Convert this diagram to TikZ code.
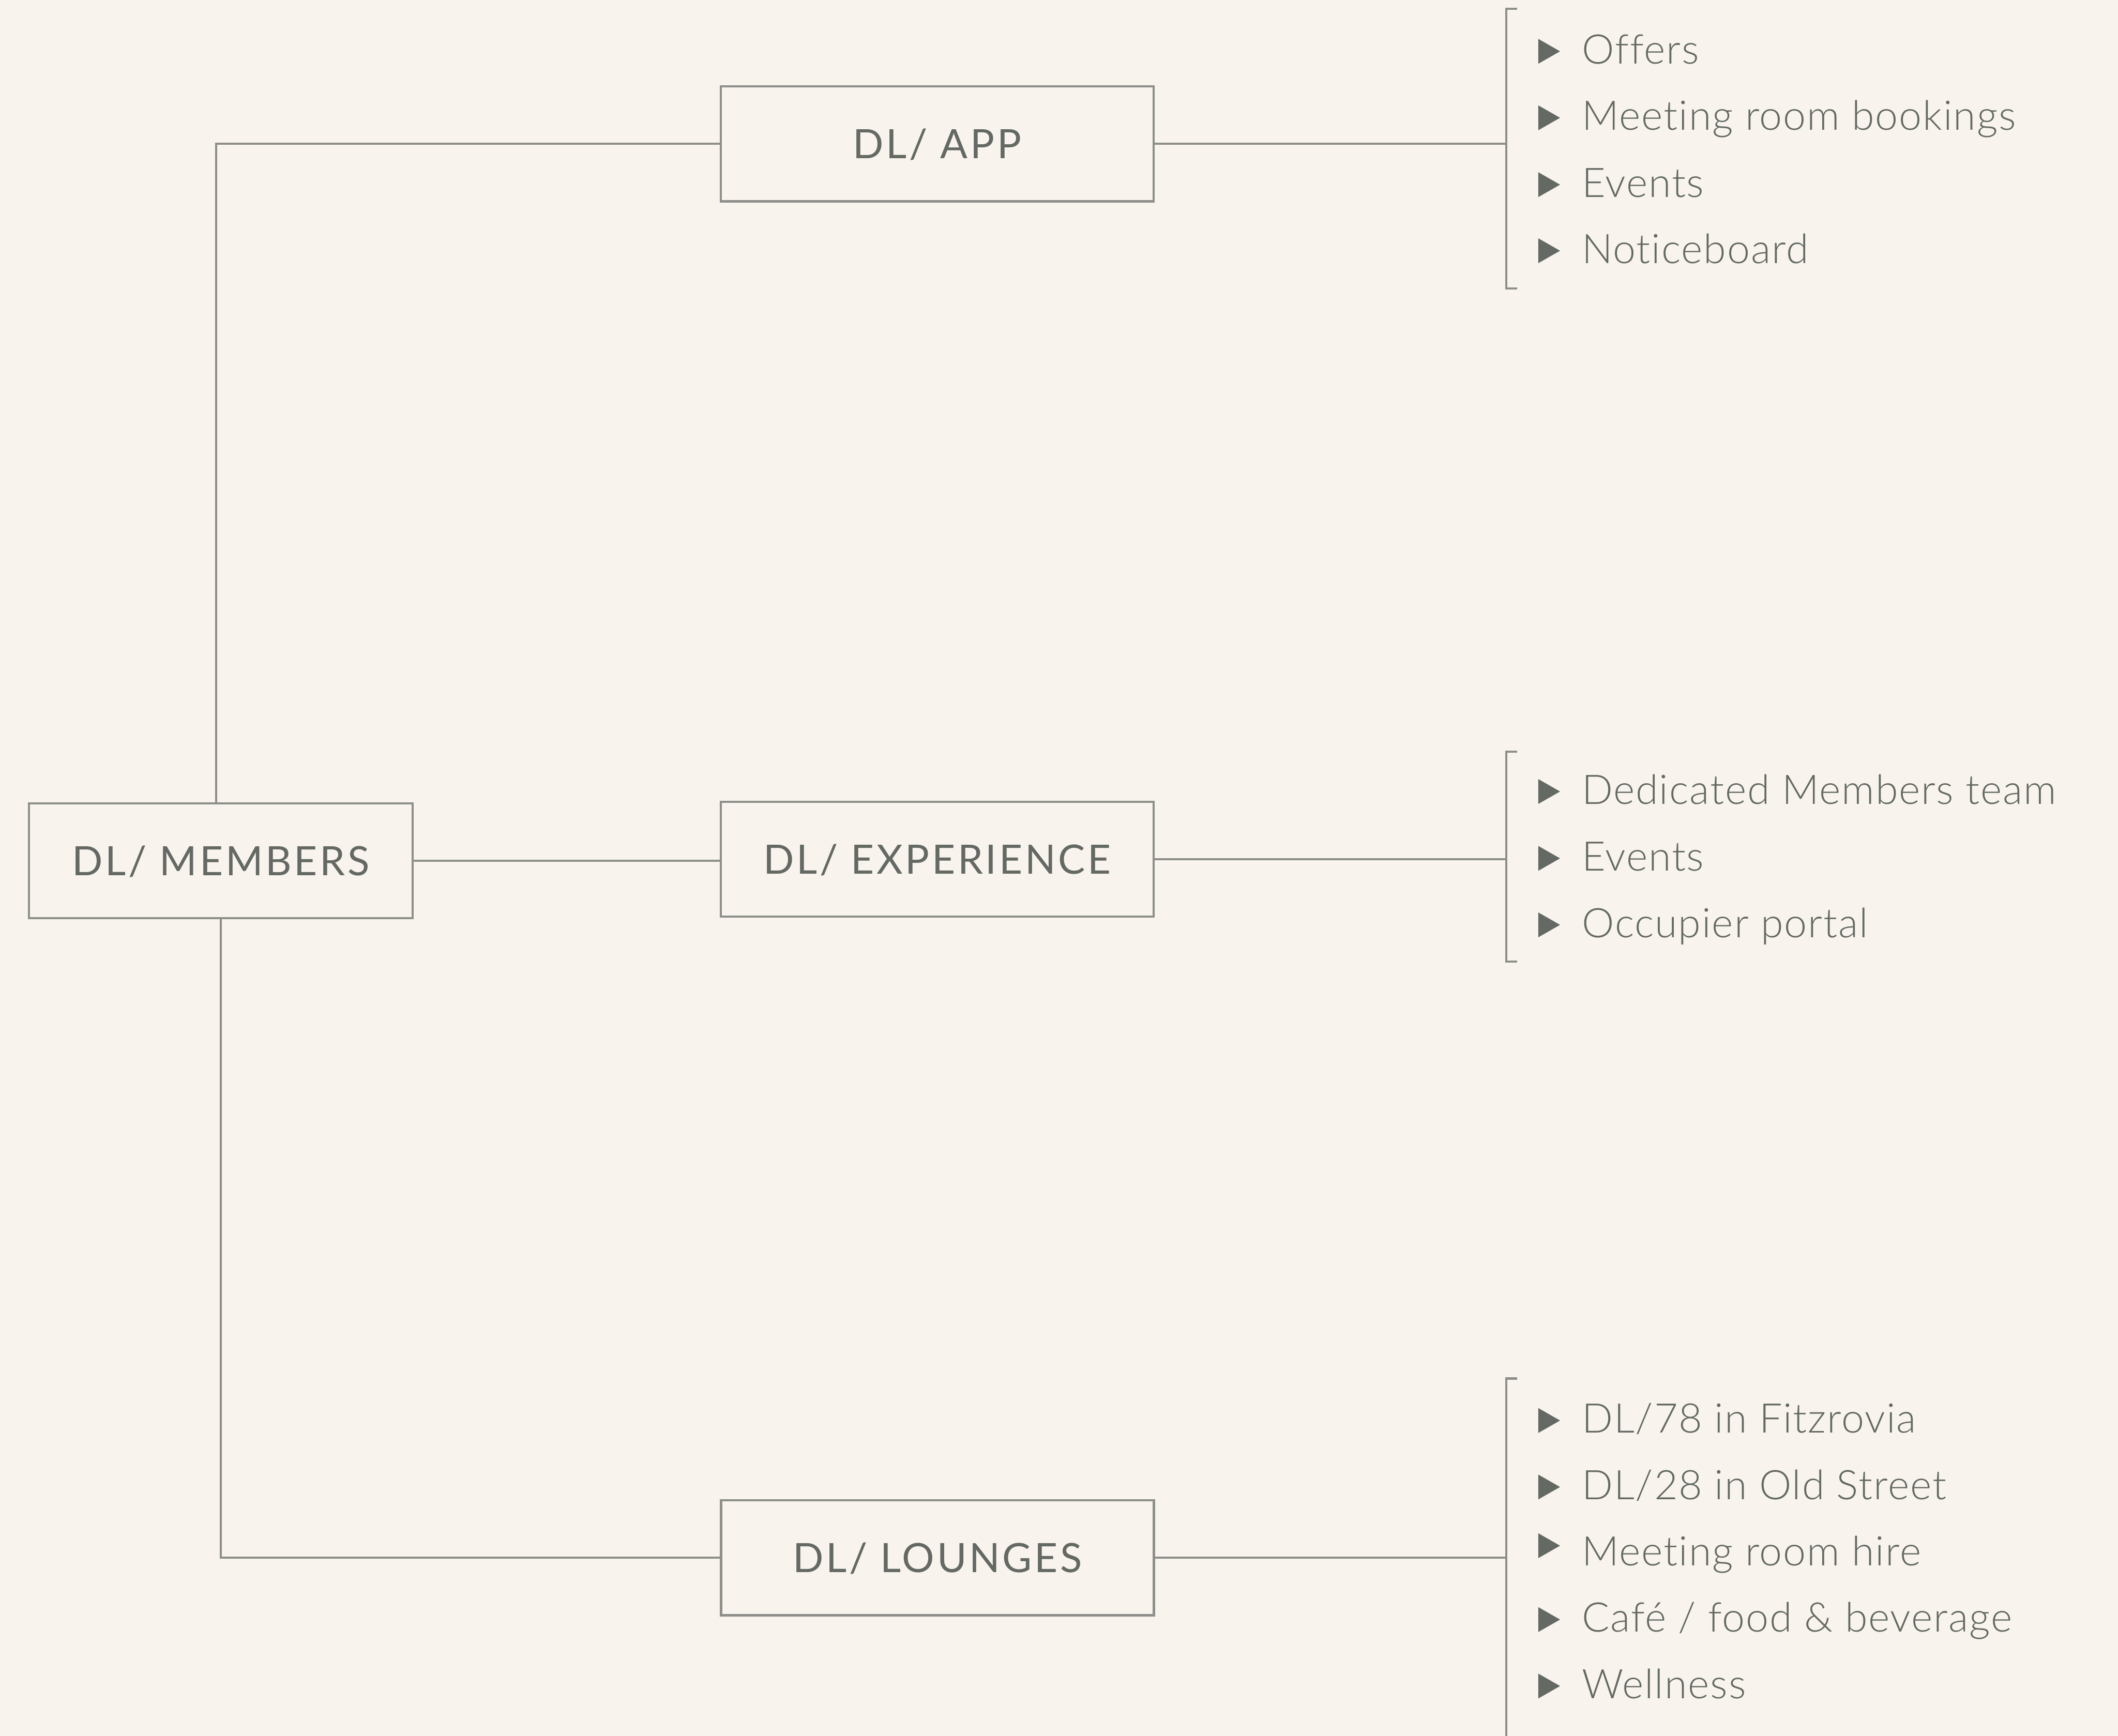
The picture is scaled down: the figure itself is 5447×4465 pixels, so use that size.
\documentclass[tikz,border=0pt]{standalone}
\usepackage{fontspec}
\setmainfont{Lato}
\newfontfamily\itemfont{Lato Light}[LetterSpace=2.4, Ligatures=NoCommon]
\newfontfamily\boxfont{Lato}[LetterSpace=6]
\usetikzlibrary{calc}
\definecolor{bgc}{HTML}{F8F4ED}
\definecolor{linec}{HTML}{8E8F8A}
\definecolor{txtc}{HTML}{646963}
\tikzset{
  box/.style={draw=linec, line width=5.5pt, fill=bgc, minimum width=1113pt, minimum height=296pt,
    inner sep=0pt, text=txtc, font=\boxfont\fontsize{104}{120}\selectfont, text height=75pt, text depth=0pt},
  item/.style={anchor=base west, inner sep=0pt, text=txtc, font=\itemfont\fontsize{105}{120}\selectfont},
  conn/.style={draw=linec, line width=5.5pt},
  bul/.style={fill=txtc}
}
\newcommand\bulletfor[2][0]{\fill[bul] ($(#2.base west)+(-112,-#1)$) -- ++(0,-64) -- ++(56,32) -- cycle;}
\begin{document}
\begin{tikzpicture}[x=1pt,y=-1pt]
\fill[bgc] (0,0) rectangle (5447,4465);
\useasboundingbox (0,0) rectangle (5447,4465);

% boxes
\node[box, minimum width=986pt] (mem) at (568,2214) {DL/ MEMBERS};
\node[box] (app) at (2410,370) {DL/ APP};
\node[box] (exp) at (2410,2210) {DL/ EXPERIENCE};
\node[box] (lou) at (2411,4007) {DL/ LOUNGES};

% connectors
\draw[conn] ([xshift=-12pt]mem.north) |- (app.west);
\draw[conn] (mem.east) -- (mem.east -| exp.west);
\draw[conn] (mem.south) |- (lou.west);

% bracket coordinates
\coordinate (b1t) at (3874,23);
\coordinate (b1b) at (3874,742);
\coordinate (b2t) at (3874,1933);
\coordinate (b2b) at (3874,2474);
\coordinate (b3t) at (3874,3546);
\coordinate (b3b) at (3874,4480);

\draw[conn] ([xshift=28pt]b1t) -- (b1t) -- (b1b) -- ([xshift=28pt]b1b);
\draw[conn] ([xshift=28pt]b2t) -- (b2t) -- (b2b) -- ([xshift=28pt]b2b);
\draw[conn] ([xshift=28pt]b3t) -- (b3t) -- (b3b);

\draw[conn] (app.east) -- (app.east -| b1t);
\draw[conn] (exp.east) -- (exp.east -| b2t);
\draw[conn] (lou.east) -- (lou.east -| b3t);

% items: app
\node[item] (a1) at (4068,164) {Offers};
\node[item] (a2) at (4068,335) {Meeting room bookings};
\node[item] (a3) at (4068,507) {Events};
\node[item] (a4) at (4068,677) {Noticeboard};
% items: experience
\node[item] (e1) at (4068,2068) {Dedicated Members team};
\node[item] (e2) at (4068,2240) {Events};
\node[item] (e3) at (4068,2411) {Occupier portal};
% items: lounges
\node[item] (l1) at (4068,3686) {DL/78 in Fitzrovia};
\node[item] (l2) at (4068,3857) {DL/28 in Old Street};
\node[item] (l3) at (4068,4028) {Meeting room hire};
\node[item] (l4) at (4068,4198) {Café / food \& beverage};
\node[item] (l5) at (4068,4369) {Wellness};

\bulletfor{a1}\bulletfor{a2}\bulletfor{a3}\bulletfor{a4}
\bulletfor{e1}\bulletfor{e2}\bulletfor{e3}
\bulletfor{l1}\bulletfor{l2}\bulletfor[20]{l3}\bulletfor{l4}\bulletfor{l5}
\end{tikzpicture}
\end{document}
